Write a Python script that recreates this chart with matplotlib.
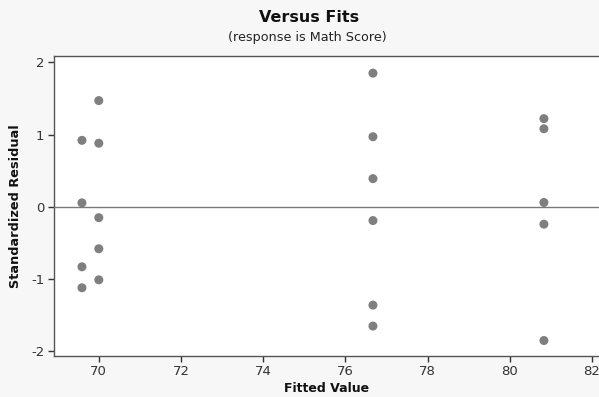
import matplotlib
matplotlib.use("Agg")
import matplotlib.pyplot as plt

plt.rcParams["axes.unicode_minus"] = False

fitted = [69.59, 69.59, 69.59, 69.59,
          70.0, 70.0, 70.0, 70.0, 70.0,
          76.67, 76.67, 76.67, 76.67, 76.67, 76.67,
          80.83, 80.83, 80.83, 80.83, 80.83]
std_resid = [0.92, 0.055, -0.83, -1.12,
             1.47, 0.88, -0.15, -0.58, -1.01,
             1.85, 0.97, 0.39, -0.19, -1.36, -1.65,
             1.22, 1.08, 0.06, -0.24, -1.85]
xticks = [70, 72, 74, 76, 78, 80, 82]
yticks = [-2, -1, 0, 1, 2]

W, H = 599, 397
fig = plt.figure(figsize=(W / 100, H / 100), dpi=100)
fig.patch.set_facecolor("#f7f7f7")
ax = fig.add_axes([54 / W, 1 - 355.7 / H, (W - 54) / W, (355.7 - 56) / H])
ax.set_facecolor("white")

ax.axhline(0, color="#7a7a7a", lw=1.0, zorder=3)
ax.scatter(fitted, std_resid, s=42, color="#7f7f7f", edgecolors="none", zorder=2)

ax.set_xlim(68.91, 82.17)
ax.set_ylim(-2.06, 2.087)
ax.set_xticks(xticks)
ax.set_yticks(yticks)
ax.tick_params(direction="out", length=4, width=1, colors="#333333", labelsize=9.5, pad=3)
for side in ["left", "bottom", "top"]:
    ax.spines[side].set_color("#555555")
    ax.spines[side].set_linewidth(1.0)
ax.spines["right"].set_visible(False)

fig.text(309 / W, 1 - 18 / H, "Versus Fits", ha="center", va="center",
         fontsize=11.5, fontweight="bold", color="#111111")
fig.text(307 / W, 1 - 37 / H, "(response is Math Score)", ha="center", va="center",
         fontsize=9.2, color="#222222")
fig.text(16 / W, 1 - 206 / H, "Standardized Residual", ha="center", va="center",
         rotation=90, fontsize=9.3, fontweight="bold", color="#111111")
fig.text(327 / W, 1 - 389 / H, "Fitted Value", ha="center", va="center",
         fontsize=9, fontweight="bold", color="#111111")

fig.savefig("out.png", dpi=100, facecolor=fig.get_facecolor())
